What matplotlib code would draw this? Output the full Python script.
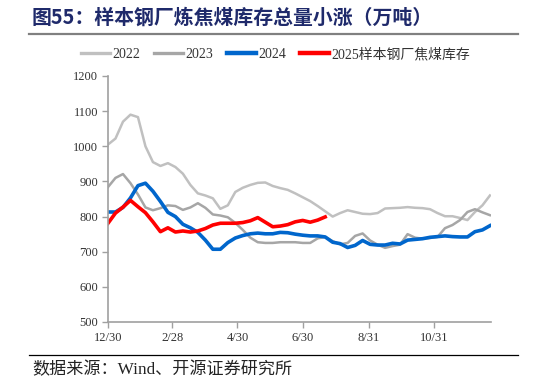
#!/usr/bin/env python3

import numpy as np
from matplotlib import pyplot as plt
from matplotlib.lines import Line2D

plt.rcParams['font.family'] = ['Liberation Serif', 'Noto Sans CJK SC', 'DejaVu Sans']

# weekly inventory, 10k tons
y2022 = [1005, 1022, 1070, 1090, 1083, 1000, 955, 944, 952, 941, 922, 890, 866,
         860, 852, 822, 832, 870, 882, 890, 896, 897, 887, 881, 876, 866, 855,
         844, 830, 815, 800, 810, 818, 813, 808, 807, 810, 823, 824, 825, 827,
         825, 824, 821, 810, 801, 801, 796, 790, 813, 832, 860]
y2023 = [884, 910, 921, 895, 863, 826, 818, 824, 832, 830, 819, 826, 838, 825,
         806, 803, 798, 782, 762, 740, 727, 725, 725, 727, 727, 727, 725, 725,
         738, 742, 730, 721, 725, 745, 752, 732, 720, 711, 716, 720, 750, 740,
         737, 739, 742, 767, 776, 790, 813, 821, 812, 804]
y2024 = [813, 813, 826, 853, 888, 895, 872, 843, 812, 800, 778, 768, 755, 733,
         707, 707, 726, 739, 746, 751, 753, 751, 751, 755, 754, 750, 747, 745,
         745, 742, 727, 723, 712, 718, 732, 721, 719, 719, 724, 722, 733, 735,
         737, 741, 743, 745, 743, 742, 742, 757, 762, 774]
y2025 = [781, 810, 827, 846, 828, 811, 785, 757, 768, 756, 759, 756, 759, 766,
         776, 781, 781, 781, 783, 788, 797, 784, 771, 773, 777, 785, 789, 784,
         790, 799]

tick_days = [0, 60, 121, 182, 244, 305]
tick_labels = ['12/30', '2/28', '4/30', '6/30', '8/31', '10/31']


def main():
    fig = plt.figure(figsize=(5.46, 3.84), dpi=100)
    ax = fig.add_axes([108/546, 62/384, 383/546, 246/384])

    series = [(y2022, '2022', '#C0C0C0', 1.8),
              (y2023, '2023', '#A6A6A6', 1.8),
              (y2024, '2024', '#0066CC', 2.6),
              (y2025, '2025样本钢厂焦煤库存', '#FF0000', 2.6)]
    handles = []
    for ys, lab, col, lw in series:
        days = np.arange(len(ys)) * 7
        ax.plot(days, ys, color=col, lw=lw, solid_joinstyle='round')
        handles.append(Line2D([], [], color=col, lw=lw + 0.6, label=lab))

    ax.set_xlim(0, 358)
    ax.set_ylim(500, 1200)
    ax.set_yticks(range(500, 1201, 100))
    ax.set_xticks(tick_days)
    ax.set_xticklabels(tick_labels)
    for s in ['top', 'right']:
        ax.spines[s].set_visible(False)
    for s in ['left', 'bottom']:
        ax.spines[s].set_color('#A0A0A0')
        ax.spines[s].set_linewidth(1.2)
    ax.tick_params(axis='both', colors='#A0A0A0', labelcolor='#333333',
                   labelsize=9, length=4, width=1.0, direction='out')
    ax.tick_params(axis='y', pad=3)

    fig.legend(handles=handles, loc='center', bbox_to_anchor=(0.505, 0.858),
               ncol=4, frameon=False, fontsize=10, handlelength=2.1,
               handletextpad=0.15, columnspacing=1.0, labelcolor='#333333')

    fig.text(32/546, 1 - 17/384, '图55：样本钢厂炼焦煤库存总量小涨（万吨）',
             family=['Noto Sans CJK SC'], fontweight='bold', fontsize=14.3,
             color='#1F2A6B', va='center', ha='left')
    fig.add_artist(Line2D([29/546, 518/546], [1 - 34/384, 1 - 34/384],
                          color='#808080', lw=1.6))
    fig.add_artist(Line2D([29/546, 518/546], [1 - 355/384, 1 - 355/384],
                          color='#000000', lw=0.9))
    fig.text(32/546, 1 - 370/384, '数据来源：Wind、开源证券研究所',
             family=['Liberation Serif', 'Noto Sans CJK SC'], fontsize=12.3,
             color='#222222', va='center', ha='left')

    fig.savefig('out.png', dpi=100)
    plt.close(fig)


if __name__ == '__main__':
    main()
